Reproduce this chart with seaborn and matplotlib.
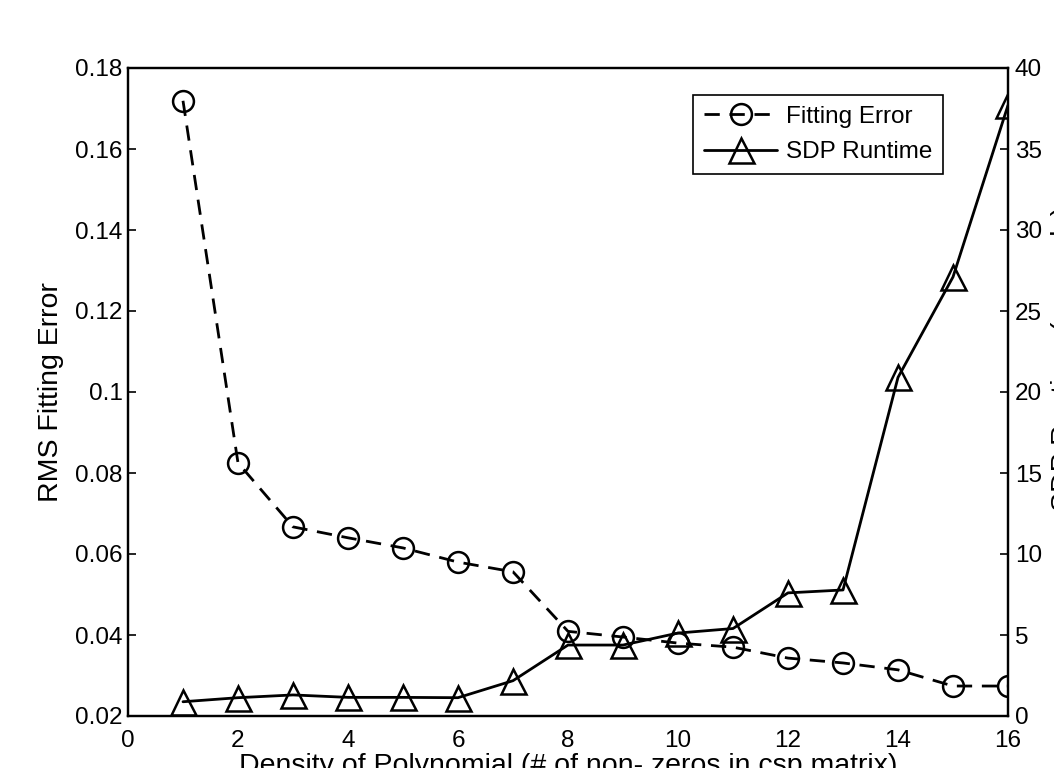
import matplotlib
matplotlib.use("Agg")
import matplotlib.pyplot as plt
import matplotlib.ticker as mticker
import seaborn as sns
import numpy as np

# Data
density = [1, 2, 3, 4, 5, 6, 7, 8, 9, 10, 11, 12, 13, 14, 15, 16]
fit_error = [0.1719, 0.0825, 0.0667, 0.0640, 0.0615, 0.0580, 0.0556, 0.0409,
             0.0395, 0.0380, 0.0370, 0.0343, 0.0331, 0.0314, 0.0274, 0.0274]
runtime = [0.88, 1.13, 1.30, 1.15, 1.15, 1.13, 2.18, 4.38,
           4.38, 5.12, 5.40, 7.6, 7.78, 20.9, 27.1, 37.7]

x_ticks = np.arange(0, 17, 2)
err_ticks = np.arange(0.02, 0.1801, 0.02)
run_ticks = np.arange(0, 41, 5)

sns.set_style("white")
plt.rcParams['font.family'] = ['Liberation Sans', 'DejaVu Sans']
plt.rcParams['font.size'] = 17.5
for key in ('text.color', 'axes.labelcolor', 'xtick.color', 'ytick.color'):
    plt.rcParams[key] = 'black'

fig = plt.figure(figsize=(10.54, 7.68), dpi=100)
ax = fig.add_axes([128 / 1054, 1 - 716 / 768, 880 / 1054, 648 / 768])
ax2 = ax.twinx()

sns.lineplot(x=density, y=fit_error, ax=ax, color='black', lw=2.0,
             linestyle=(0, (5.5, 3.5)), marker='o', markersize=15,
             markerfacecolor='none', markeredgecolor='black', mew=1.8,
             label='Fitting Error', legend=False)
sns.lineplot(x=density, y=runtime, ax=ax2, color='black', lw=2.0,
             marker='^', markersize=18, markerfacecolor='none',
             markeredgecolor='black', mew=1.8, label='SDP Runtime', legend=False)

ax.set_xlim(0, 16)
ax.set_ylim(0.02, 0.18)
ax2.set_ylim(0, 40)
ax.set_xticks(x_ticks)
ax.set_yticks(err_ticks)
ax2.set_yticks(run_ticks)
ax.yaxis.set_major_formatter(mticker.FuncFormatter(lambda v, p: "{:g}".format(round(v, 2))))

for a in (ax, ax2):
    for s in a.spines.values():
        s.set_linewidth(1.6)
        s.set_color('black')
ax.tick_params(axis='x', direction='in', length=6, width=1.2, pad=10, labelsize=17.5, top=False)
ax.tick_params(axis='y', direction='in', length=6, width=1.2, pad=4, labelsize=17.5, left=True, right=False)
ax2.tick_params(axis='y', direction='in', length=6, width=1.2, pad=5, labelsize=17.5, right=True, left=False)

ax.set_ylabel("RMS Fitting Error", fontsize=20.5, labelpad=8)
ax.set_xlabel("")
ax2.set_ylabel("")

# axis labels that run off the edges of the picture, as in the reference
fig.text(568 / 1054, 15 / 768, "Density of Polynomial (# of non- zeros in csp matrix)",
         ha='center', va='top', fontsize=20.5)
fig.text(1051 / 1054, 410 / 768, "SDP Runtime (seconds)", rotation=90,
         ha='left', va='center', fontsize=20.5)

h1, l1 = ax.get_legend_handles_labels()
h2, l2 = ax2.get_legend_handles_labels()
leg = ax2.legend(h1 + h2, l1 + l2, loc='upper right',
                 bbox_to_anchor=((943 - 128) / 880, (716 - 95) / 648),
                 borderaxespad=0, fancybox=False, framealpha=1, edgecolor='black',
                 fontsize=17.5, handlelength=3.0, handletextpad=0.35,
                 borderpad=0.45, labelspacing=0.55)
leg.get_frame().set_linewidth(1.2)

fig.savefig("out.png", dpi=100)
